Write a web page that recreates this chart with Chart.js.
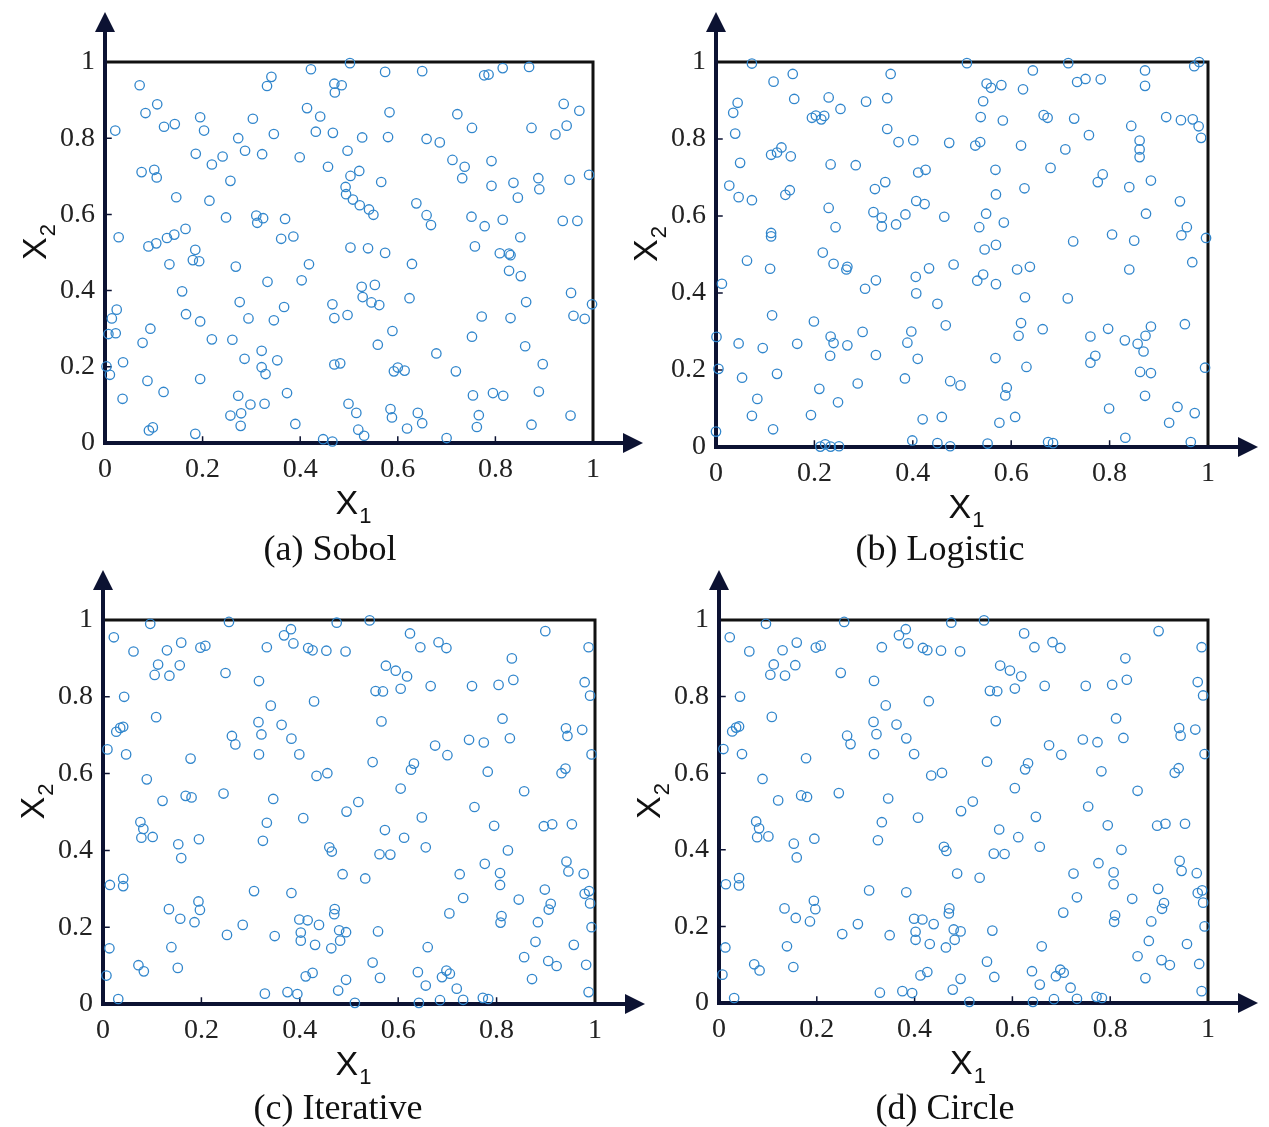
<!DOCTYPE html>
<html>
<head>
<meta charset="utf-8">
<script src="https://cdn.jsdelivr.net/npm/chart.js@4.4.1/dist/chart.umd.min.js"></script>
<style>
  body { margin: 0; background: #ffffff; }
  #page { position: relative; width: 1269px; height: 1127px; overflow: hidden; background: #ffffff; }
  canvas { position: absolute; }
  .caption {
    position: absolute; width: 400px; text-align: center;
    font-family: "Liberation Serif", "Times New Roman", serif;
    font-size: 36px; line-height: 44px; color: #111;
  }
</style>
</head>
<body>
<div id="page"></div>
<script>
// Sample points, [x1, x2]
const sobolPoints = [
  [0.071,0.939],[0.332,0.937],[0.341,0.961],[0.422,0.981],[0.470,0.943],[0.471,0.920],
  [0.083,0.866],[0.107,0.889],[0.121,0.830],[0.143,0.837],[0.195,0.855],[0.203,0.820],
  [0.303,0.851],[0.346,0.811],[0.414,0.879],[0.441,0.857],[0.432,0.817],[0.467,0.814],
  [0.021,0.820],[0.273,0.800],[0.186,0.759],[0.219,0.731],[0.241,0.752],[0.287,0.767],
  [0.322,0.758],[0.399,0.750],[0.457,0.725],[0.075,0.711],[0.101,0.717],[0.106,0.697],
  [0.257,0.688],[0.146,0.645],[0.214,0.636],[0.248,0.592],[0.310,0.597],[0.324,0.590],
  [0.312,0.578],[0.369,0.588],[0.028,0.540],[0.089,0.516],[0.105,0.524],[0.127,0.538],
  [0.142,0.547],[0.165,0.562],[0.361,0.536],[0.386,0.542],[0.185,0.507],[0.180,0.480],
  [0.193,0.477],[0.132,0.469],[0.268,0.463],[0.418,0.469],[0.333,0.423],[0.403,0.427],
  [0.158,0.398],[0.276,0.370],[0.367,0.357],[0.466,0.364],[0.470,0.328],[0.024,0.350],
  [0.014,0.327],[0.166,0.338],[0.195,0.319],[0.294,0.327],[0.346,0.322],[0.093,0.300],
  [0.007,0.286],[0.022,0.288],[0.077,0.263],[0.219,0.272],[0.261,0.271],[0.321,0.242],
  [0.286,0.221],[0.353,0.217],[0.321,0.199],[0.329,0.181],[0.003,0.201],[0.010,0.179],
  [0.037,0.212],[0.470,0.206],[0.482,0.209],[0.087,0.163],[0.195,0.168],[0.120,0.134],
  [0.036,0.116],[0.273,0.124],[0.298,0.101],[0.327,0.103],[0.373,0.131],[0.257,0.072],
  [0.279,0.078],[0.278,0.045],[0.390,0.050],[0.090,0.033],[0.098,0.041],[0.185,0.024],
  [0.447,0.010],[0.466,0.004],
  [0.502,0.997],[0.485,0.939],[0.574,0.974],[0.650,0.976],[0.777,0.965],[0.786,0.967],
  [0.815,0.984],[0.869,0.987],[0.583,0.868],[0.722,0.863],[0.752,0.827],[0.940,0.890],
  [0.972,0.872],[0.874,0.827],[0.923,0.810],[0.946,0.833],[0.527,0.802],[0.580,0.803],
  [0.659,0.798],[0.686,0.789],[0.497,0.767],[0.712,0.743],[0.737,0.725],[0.732,0.695],
  [0.792,0.740],[0.792,0.675],[0.503,0.701],[0.521,0.714],[0.566,0.685],[0.493,0.672],
  [0.494,0.653],[0.508,0.639],[0.522,0.624],[0.541,0.613],[0.550,0.599],[0.638,0.629],
  [0.659,0.598],[0.668,0.572],[0.751,0.594],[0.778,0.569],[0.815,0.586],[0.837,0.683],
  [0.846,0.644],[0.888,0.695],[0.890,0.666],[0.952,0.691],[0.992,0.704],[0.851,0.540],
  [0.938,0.583],[0.968,0.583],[0.503,0.513],[0.539,0.511],[0.574,0.499],[0.629,0.470],
  [0.758,0.516],[0.809,0.498],[0.828,0.497],[0.831,0.493],[0.828,0.452],[0.852,0.438],
  [0.526,0.410],[0.553,0.415],[0.528,0.383],[0.546,0.369],[0.562,0.362],[0.624,0.380],
  [0.497,0.336],[0.589,0.294],[0.772,0.332],[0.831,0.328],[0.863,0.370],[0.955,0.394],
  [0.960,0.334],[0.983,0.326],[0.998,0.364],[0.559,0.258],[0.752,0.279],[0.861,0.254],
  [0.679,0.235],[0.592,0.188],[0.600,0.198],[0.614,0.190],[0.719,0.188],[0.897,0.207],
  [0.499,0.103],[0.515,0.079],[0.585,0.089],[0.588,0.067],[0.641,0.079],[0.650,0.052],
  [0.619,0.038],[0.519,0.035],[0.531,0.019],[0.754,0.125],[0.795,0.131],[0.816,0.124],
  [0.889,0.135],[0.766,0.073],[0.762,0.042],[0.700,0.013],[0.874,0.048],[0.954,0.072]
];

const logisticPoints = [
  [0.073,0.996],[0.117,0.949],[0.156,0.969],[0.355,0.969],[0.035,0.868],[0.044,0.894],
  [0.039,0.814],[0.159,0.904],[0.229,0.908],[0.253,0.878],[0.195,0.855],[0.203,0.861],
  [0.214,0.851],[0.220,0.860],[0.305,0.897],[0.348,0.906],[0.348,0.826],[0.371,0.792],
  [0.401,0.797],[0.474,0.790],[0.112,0.759],[0.124,0.765],[0.133,0.778],[0.152,0.755],
  [0.049,0.738],[0.233,0.734],[0.284,0.732],[0.411,0.713],[0.426,0.720],[0.027,0.679],
  [0.046,0.649],[0.073,0.641],[0.141,0.655],[0.150,0.667],[0.323,0.670],[0.344,0.688],
  [0.229,0.621],[0.407,0.639],[0.424,0.631],[0.320,0.610],[0.337,0.596],[0.337,0.573],
  [0.366,0.578],[0.385,0.604],[0.464,0.598],[0.243,0.571],[0.112,0.556],[0.112,0.547],
  [0.063,0.484],[0.217,0.505],[0.239,0.476],[0.267,0.468],[0.265,0.461],[0.110,0.463],
  [0.483,0.474],[0.433,0.464],[0.406,0.442],[0.407,0.399],[0.012,0.424],[0.303,0.411],
  [0.325,0.433],[0.450,0.372],[0.114,0.342],[0.199,0.326],[0.467,0.316],[0.001,0.286],
  [0.046,0.269],[0.095,0.257],[0.165,0.268],[0.233,0.287],[0.239,0.270],[0.232,0.237],
  [0.267,0.264],[0.298,0.299],[0.397,0.300],[0.389,0.271],[0.410,0.229],[0.325,0.239],
  [0.005,0.203],[0.053,0.180],[0.124,0.190],[0.210,0.151],[0.248,0.116],[0.288,0.165],
  [0.384,0.178],[0.476,0.171],[0.084,0.125],[0.073,0.081],[0.193,0.083],[0.116,0.046],
  [0.000,0.040],[0.420,0.072],[0.459,0.078],[0.212,0.001],[0.222,0.007],[0.233,0.001],
  [0.250,0.002],[0.399,0.017],[0.450,0.010],[0.476,0.002],
  [0.510,0.997],[0.644,0.978],[0.716,0.997],[0.872,0.978],[0.872,0.938],[0.972,0.989],
  [0.982,1.000],[0.550,0.944],[0.559,0.933],[0.580,0.940],[0.624,0.929],[0.734,0.948],
  [0.751,0.956],[0.782,0.955],[0.543,0.898],[0.538,0.857],[0.583,0.848],[0.666,0.862],
  [0.674,0.855],[0.728,0.853],[0.758,0.810],[0.844,0.834],[0.915,0.857],[0.945,0.849],
  [0.969,0.851],[0.981,0.833],[0.986,0.803],[0.527,0.783],[0.537,0.792],[0.620,0.783],
  [0.710,0.773],[0.861,0.796],[0.861,0.773],[0.861,0.753],[0.568,0.720],[0.680,0.725],
  [0.569,0.656],[0.627,0.672],[0.776,0.688],[0.786,0.708],[0.840,0.675],[0.884,0.692],
  [0.943,0.638],[0.549,0.606],[0.585,0.583],[0.535,0.571],[0.874,0.606],[0.805,0.552],
  [0.726,0.534],[0.850,0.536],[0.946,0.550],[0.957,0.571],[0.996,0.543],[0.546,0.513],
  [0.569,0.525],[0.968,0.480],[0.612,0.461],[0.638,0.468],[0.531,0.432],[0.543,0.448],
  [0.569,0.423],[0.840,0.461],[0.628,0.389],[0.715,0.386],[0.620,0.322],[0.615,0.289],
  [0.664,0.306],[0.761,0.287],[0.797,0.307],[0.831,0.277],[0.857,0.268],[0.873,0.289],
  [0.884,0.313],[0.869,0.248],[0.953,0.319],[0.568,0.231],[0.631,0.208],[0.761,0.219],
  [0.771,0.237],[0.862,0.195],[0.884,0.192],[0.994,0.206],[0.497,0.160],[0.591,0.154],
  [0.588,0.134],[0.872,0.133],[0.799,0.100],[0.938,0.104],[0.973,0.088],[0.921,0.063],
  [0.576,0.063],[0.608,0.078],[0.552,0.009],[0.675,0.013],[0.685,0.010],[0.832,0.024],
  [0.965,0.013]
];

const iterativePoints = [
  [0.022,0.955],[0.096,0.990],[0.256,0.995],[0.062,0.918],[0.130,0.921],[0.159,0.941],
  [0.198,0.928],[0.208,0.933],[0.333,0.929],[0.368,0.960],[0.382,0.976],[0.387,0.939],
  [0.417,0.927],[0.426,0.921],[0.454,0.920],[0.493,0.918],[0.475,0.993],[0.112,0.884],
  [0.105,0.857],[0.135,0.855],[0.156,0.882],[0.249,0.862],[0.317,0.841],[0.043,0.800],
  [0.341,0.777],[0.429,0.788],[0.108,0.747],[0.027,0.709],[0.035,0.719],[0.041,0.722],
  [0.009,0.663],[0.047,0.650],[0.262,0.698],[0.269,0.676],[0.316,0.734],[0.322,0.702],
  [0.363,0.727],[0.383,0.691],[0.317,0.650],[0.399,0.650],[0.178,0.639],[0.089,0.585],
  [0.434,0.594],[0.456,0.601],[0.121,0.529],[0.168,0.542],[0.180,0.538],[0.245,0.548],
  [0.346,0.534],[0.495,0.501],[0.407,0.484],[0.333,0.472],[0.076,0.474],[0.082,0.456],
  [0.078,0.433],[0.101,0.435],[0.153,0.416],[0.159,0.380],[0.195,0.429],[0.325,0.425],
  [0.460,0.408],[0.465,0.397],[0.487,0.338],[0.014,0.310],[0.041,0.326],[0.041,0.307],
  [0.307,0.294],[0.383,0.289],[0.134,0.247],[0.157,0.222],[0.186,0.213],[0.194,0.267],
  [0.197,0.245],[0.252,0.180],[0.284,0.206],[0.349,0.177],[0.399,0.220],[0.416,0.218],
  [0.439,0.206],[0.402,0.186],[0.402,0.165],[0.431,0.154],[0.471,0.247],[0.470,0.234],
  [0.480,0.192],[0.494,0.187],[0.482,0.165],[0.464,0.145],[0.013,0.145],[0.139,0.148],
  [0.072,0.101],[0.083,0.085],[0.152,0.094],[0.007,0.074],[0.412,0.072],[0.426,0.081],
  [0.494,0.063],[0.478,0.035],[0.031,0.013],[0.329,0.027],[0.375,0.031],[0.395,0.026],
  [0.542,0.999],[0.624,0.965],[0.645,0.929],[0.682,0.942],[0.698,0.927],[0.899,0.971],
  [0.831,0.900],[0.987,0.929],[0.575,0.881],[0.595,0.868],[0.618,0.853],[0.554,0.815],
  [0.569,0.814],[0.605,0.821],[0.666,0.828],[0.750,0.828],[0.804,0.831],[0.834,0.844],
  [0.979,0.838],[0.990,0.803],[0.566,0.736],[0.812,0.743],[0.744,0.688],[0.774,0.681],
  [0.827,0.692],[0.675,0.673],[0.700,0.648],[0.941,0.718],[0.944,0.698],[0.974,0.714],
  [0.993,0.650],[0.548,0.630],[0.632,0.626],[0.626,0.610],[0.782,0.605],[0.940,0.613],
  [0.932,0.601],[0.605,0.561],[0.856,0.554],[0.519,0.526],[0.755,0.513],[0.648,0.486],
  [0.573,0.453],[0.612,0.433],[0.656,0.408],[0.795,0.464],[0.896,0.463],[0.913,0.468],
  [0.953,0.468],[0.562,0.390],[0.584,0.389],[0.823,0.400],[0.533,0.327],[0.725,0.338],
  [0.776,0.365],[0.807,0.341],[0.807,0.310],[0.942,0.371],[0.946,0.345],[0.977,0.339],
  [0.732,0.276],[0.845,0.272],[0.898,0.298],[0.979,0.287],[0.988,0.294],[0.990,0.262],
  [0.704,0.236],[0.810,0.229],[0.808,0.212],[0.884,0.213],[0.910,0.261],[0.906,0.246],
  [0.993,0.200],[0.559,0.189],[0.660,0.148],[0.879,0.162],[0.957,0.154],[0.856,0.122],
  [0.548,0.108],[0.905,0.112],[0.922,0.099],[0.982,0.102],[0.563,0.068],[0.640,0.083],
  [0.656,0.048],[0.689,0.070],[0.698,0.087],[0.705,0.079],[0.719,0.040],[0.872,0.065],
  [0.987,0.031],[0.512,0.003],[0.642,0.003],[0.685,0.010],[0.732,0.011],[0.772,0.016],
  [0.783,0.013]
];

// (d) shows the very same point cloud as (c) in the picture
const circlePoints = iterativePoints;

const tickValues = [0, 0.2, 0.4, 0.6, 0.8, 1];
const tickLabels = ['0', '0.2', '0.4', '0.6', '0.8', '1'];
const captions = ['(a) Sobol', '(b) Logistic', '(c) Iterative', '(d) Circle'];

// Styles
const styles = {
  point: '#3186cc',
  axis: '#0c1232',
  frame: '#111111',
  text: '#222222',
  tickFont: { family: '"Liberation Serif", "Times New Roman", serif', size: 28 },
  titleFamily: '"Liberation Sans", Arial, sans-serif'
};

// where each frame (x1 = 0..1, x2 = 0..1) sits on the page
const panels = [
  { points: sobolPoints,     frame: { left: 105, right: 593,  top: 62,  bottom: 443 },  caption: { x: 330, y: 548 } },
  { points: logisticPoints,  frame: { left: 716, right: 1208, top: 62,  bottom: 447 },  caption: { x: 940, y: 548 } },
  { points: iterativePoints, frame: { left: 103, right: 595,  top: 620, bottom: 1004 }, caption: { x: 338, y: 1107 } },
  { points: circlePoints,    frame: { left: 719, right: 1208, top: 620, bottom: 1003 }, caption: { x: 945, y: 1107 } }
];

const Y_AXIS_W = 80, X_AXIS_H = 45, PAD_L = 25, PAD_R = 70, PAD_B = 40;

function drawSubLabel(ctx, x, y, main, sub) {
  ctx.textBaseline = 'middle';
  ctx.textAlign = 'left';
  ctx.font = '34px ' + styles.titleFamily;
  const wm = ctx.measureText(main).width;
  ctx.font = '22px ' + styles.titleFamily;
  const ws = ctx.measureText(sub).width;
  const x0 = x - (wm + ws) / 2;
  ctx.fillStyle = '#111';
  ctx.font = '34px ' + styles.titleFamily;
  ctx.fillText(main, x0, y);
  ctx.font = '22px ' + styles.titleFamily;
  ctx.fillText(sub, x0 + wm + 1, y + 12);
}

// frame, arrowed axes, inner ticks and X1/X2 titles
const arrowAxes = {
  id: 'arrowAxes',
  beforeDatasetsDraw(chart) {
    const { ctx, chartArea: a, scales } = chart;
    ctx.save();
    ctx.lineCap = 'square';
    ctx.strokeStyle = styles.frame;
    ctx.lineWidth = 3;
    ctx.beginPath();
    ctx.moveTo(a.left, a.top);
    ctx.lineTo(a.right, a.top);
    ctx.lineTo(a.right, a.bottom);
    ctx.stroke();

    ctx.strokeStyle = styles.axis;
    ctx.fillStyle = styles.axis;
    ctx.lineWidth = 4;
    const ext = 50;
    ctx.beginPath();
    ctx.moveTo(a.left, a.bottom);
    ctx.lineTo(a.left, a.top - ext + 10);
    ctx.moveTo(a.left, a.bottom);
    ctx.lineTo(a.right + ext - 10, a.bottom);
    ctx.stroke();
    // arrow heads
    ctx.beginPath();
    ctx.moveTo(a.left, a.top - ext);
    ctx.lineTo(a.left - 10, a.top - ext + 20);
    ctx.lineTo(a.left + 10, a.top - ext + 20);
    ctx.closePath();
    ctx.fill();
    ctx.beginPath();
    ctx.moveTo(a.right + ext, a.bottom);
    ctx.lineTo(a.right + ext - 20, a.bottom - 10);
    ctx.lineTo(a.right + ext - 20, a.bottom + 10);
    ctx.closePath();
    ctx.fill();

    // small inward ticks
    ctx.lineWidth = 1.5;
    ctx.beginPath();
    tickValues.slice(1, -1).forEach(v => {
      const px = scales.x.getPixelForValue(v);
      const py = scales.y.getPixelForValue(v);
      ctx.moveTo(px, a.bottom);
      ctx.lineTo(px, a.bottom - 6);
      ctx.moveTo(a.left, py);
      ctx.lineTo(a.left + 6, py);
    });
    ctx.stroke();

    // axis titles
    drawSubLabel(ctx, (a.left + a.right) / 2 + 4, a.bottom + 62, 'X', '1');
    ctx.translate(a.left - 68, (a.top + a.bottom) / 2 - 10);
    ctx.rotate(-Math.PI / 2);
    drawSubLabel(ctx, 0, 0, 'X', '2');
    ctx.restore();
  }
};

const page = document.getElementById('page');

panels.forEach((p, i) => {
  const f = p.frame;
  const left = f.left - PAD_L - Y_AXIS_W;
  const top = f.top - 62;
  const width = (f.right + PAD_R) - left;
  const height = (f.bottom + X_AXIS_H + PAD_B) - top;

  const canvas = document.createElement('canvas');
  canvas.width = width;
  canvas.height = height;
  canvas.style.left = left + 'px';
  canvas.style.top = top + 'px';
  canvas.style.width = width + 'px';
  canvas.style.height = height + 'px';
  page.appendChild(canvas);

  const cap = document.createElement('div');
  cap.className = 'caption';
  cap.textContent = captions[i];
  cap.style.left = (p.caption.x - 200) + 'px';
  cap.style.top = (p.caption.y - 22) + 'px';
  page.appendChild(cap);

  new Chart(canvas, {
    type: 'scatter',
    data: {
      datasets: [{
        data: p.points.map(([x, y]) => ({ x, y })),
        pointStyle: 'circle',
        pointRadius: 4.7,
        pointHoverRadius: 4.7,
        borderWidth: 1.3,
        borderColor: styles.point,
        backgroundColor: 'rgba(0,0,0,0)',
        clip: false
      }]
    },
    options: {
      responsive: false,
      animation: false,
      events: [],
      layout: { padding: { left: PAD_L, top: f.top - top, right: PAD_R, bottom: PAD_B } },
      plugins: { legend: { display: false }, tooltip: { enabled: false } },
      scales: {
        x: {
          type: 'linear', min: 0, max: 1,
          afterFit: s => { s.height = X_AXIS_H; s.paddingLeft = 0; s.paddingRight = 0; },
          afterBuildTicks: s => { s.ticks = tickValues.map(v => ({ value: v })); },
          ticks: {
            padding: 10, maxRotation: 0, autoSkip: false,
            color: styles.text, font: styles.tickFont,
            callback: (v, idx) => tickLabels[idx]
          },
          grid: { display: false, drawTicks: false },
          border: { display: false }
        },
        y: {
          type: 'linear', min: 0, max: 1,
          afterFit: s => { s.width = Y_AXIS_W; s.paddingTop = 0; s.paddingBottom = 0; },
          afterBuildTicks: s => { s.ticks = tickValues.map(v => ({ value: v })); },
          ticks: {
            padding: 10, autoSkip: false,
            color: styles.text, font: styles.tickFont,
            callback: (v, idx) => tickLabels[idx]
          },
          grid: { display: false, drawTicks: false },
          border: { display: false }
        }
      }
    },
    plugins: [arrowAxes]
  });
});
</script>
</body>
</html>
